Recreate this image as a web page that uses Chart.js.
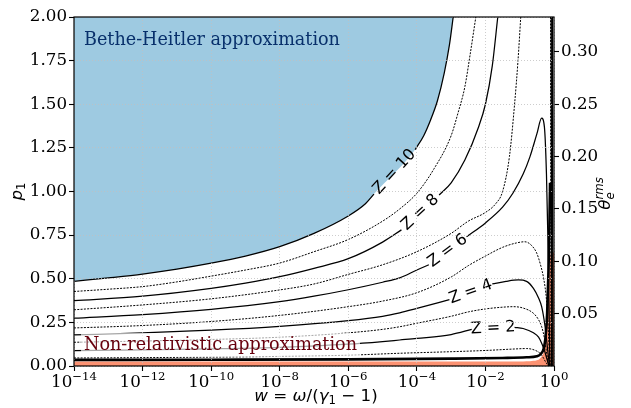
<!DOCTYPE html>
<html>
<head>
<meta charset="utf-8">
<script src="https://cdn.jsdelivr.net/npm/chart.js@4.4.0/dist/chart.umd.min.js"></script>
<style>
  html, body { margin: 0; padding: 0; background: #fff; }
  #wrap { width: 631px; height: 408px; }
</style>
</head>
<body>
<div id="wrap"><canvas id="myChart" width="631" height="408"></canvas></div>
<script>
// x values are log10(w), y values are p1. null = line broken (label / off the top)
const z10W = [-14, -13, -12, -11, -10, -9, -8, -7, -6, -5.5, -5.25, -4.64, -4.05, -3.8, -3.6, -3.4, -3.2, -3.05, -2.94, -1.5, -0.045, -0.04, -0.035];
const z10P = [0.485, 0.505, 0.527, 0.555, 0.589, 0.63, 0.684, 0.76, 0.86, 0.93, 0.985, null, 1.24, 1.32, 1.41, 1.52, 1.68, 1.84, 2.0, null, 2.0, 0.9, 0.0];

const z9W = [-14, -13, -12, -11, -10, -9, -8, -7, -6, -5, -4.5, -4, -3.5, -3, -2.8, -2.6, -2.45, -2.28, -1.2, -0.06, -0.055, -0.05];
const z9P = [0.427, 0.44, 0.455, 0.482, 0.515, 0.55, 0.59, 0.655, 0.725, 0.83, 0.9, 0.99, 1.13, 1.32, 1.45, 1.6, 1.78, 2.0, null, 2.0, 0.9, 0.0];

const z8W = [-14, -12, -10, -9, -8, -7, -6, -5, -4.45, -3.9, -3.35, -3, -2.6, -2.2, -2, -1.8, -1.64, -1.0, -0.08, -0.075, -0.07];
const z8P = [0.374, 0.4, 0.445, 0.475, 0.512, 0.56, 0.615, 0.71, 0.78, null, 0.98, 1.05, 1.18, 1.37, 1.5, 1.72, 2.0, null, 2.0, 0.9, 0.0];

const z7W = [-14, -12, -10, -8, -7, -6, -5, -4, -3, -2.5, -2, -1.7, -1.5, -1.3, -1.15, -1.05, -0.97, -0.5, -0.10, -0.095, -0.09];
const z7P = [0.322, 0.35, 0.385, 0.436, 0.47, 0.525, 0.58, 0.655, 0.76, 0.83, 0.88, 0.93, 1.0, 1.2, 1.5, 1.75, 2.0, null, 2.0, 0.9, 0.0];

const z6W = [-14, -12, -10, -8, -7, -6, -5, -4.5, -4, -3.65, -3.1, -2.55, -2, -1.5, -1.2, -0.9, -0.7, -0.5, -0.36, -0.28, -0.22, -0.18, -0.15, -0.13, -0.12];
const z6P = [0.274, 0.295, 0.325, 0.369, 0.4, 0.437, 0.48, 0.505, 0.55, 0.58, null, 0.74, 0.82, 0.91, 0.99, 1.1, 1.2, 1.33, 1.42, 1.37, 1.1, 0.75, 0.4, 0.15, 0.0];

const z5W = [-14, -12, -10, -8, -6, -5, -4, -3, -2.5, -2, -1.5, -1.1, -0.85, -0.65, -0.5, -0.38, -0.3, -0.22, -0.17, -0.13, -0.115];
const z5P = [0.218, 0.232, 0.255, 0.29, 0.34, 0.372, 0.42, 0.51, 0.575, 0.63, 0.68, 0.705, 0.712, 0.69, 0.645, 0.57, 0.5, 0.38, 0.22, 0.05, 0.0];

const z4W = [-14, -12, -10, -8, -6, -5, -4.5, -4, -3.05, -2.42, -1.8, -1.4, -1.04, -0.8, -0.6, -0.45, -0.36, -0.26, -0.2, -0.15, -0.13];
const z4P = [0.178, 0.19, 0.205, 0.227, 0.26, 0.285, 0.305, 0.33, 0.38, null, 0.47, 0.485, 0.493, 0.485, 0.445, 0.39, 0.34, 0.225, 0.12, 0.03, 0.0];

const z3W = [-14, -12, -10, -8, -6, -5, -4.5, -4, -3, -2.5, -2, -1.5, -1.19, -0.9, -0.6, -0.45, -0.36, -0.28, -0.22, -0.17, -0.14];
const z3P = [0.136, 0.143, 0.152, 0.165, 0.19, 0.21, 0.225, 0.245, 0.285, 0.31, 0.327, 0.337, 0.34, 0.332, 0.302, 0.265, 0.225, 0.16, 0.08, 0.02, 0.0];

const z2W = [-14, -12, -10, -8, -6, -5, -4.5, -4, -3, -2.4, -1.78, -1.15, -0.9, -0.6, -0.45, -0.36, -0.28, -0.22, -0.17, -0.15];
const z2P = [0.088, 0.092, 0.098, 0.107, 0.125, 0.14, 0.149, 0.158, 0.18, 0.21, null, 0.222, 0.215, 0.19, 0.165, 0.13, 0.09, 0.05, 0.015, 0.0];

const z1W = [-14, -12, -10, -8, -6, -4.5, -3, -2, -1.2, -0.8, -0.55, -0.41, -0.32, -0.25, -0.2, -0.17];
const z1P = [0.046, 0.048, 0.051, 0.055, 0.062, 0.073, 0.082, 0.089, 0.097, 0.1, 0.09, 0.073, 0.05, 0.025, 0.01, 0.0];

// dense bundle along the bottom / right edge
const edgeW = [-14, -10, -6, -3, -1.5, -0.8, -0.5, -0.38, -0.3, -0.25, -0.2, -0.16, -0.13, -0.115];
const edgeP = [0.035, 0.036, 0.038, 0.042, 0.046, 0.05, 0.056, 0.07, 0.1, 0.16, 0.3, 0.55, 0.85, 1.05];

// top of the non-relativistic region
const nrW = [-14, -1, -0.6, -0.4, -0.3, -0.25, -0.2, -0.16, -0.12, -0.08, 0];
const nrP = [0.026, 0.026, 0.03, 0.045, 0.08, 0.13, 0.25, 0.45, 0.6, 0.65, 0.65];

const xTickExp = [-14, -12, -10, -8, -6, -4, -2, 0];
const pTicks = [0, 0.25, 0.5, 0.75, 1.0, 1.25, 1.5, 1.75, 2.0];
const thetaTicks = [0.05, 0.10, 0.15, 0.20, 0.25, 0.30];

const SERIF = '"DejaVu Serif", serif';
const SANS = '"DejaVu Sans", sans-serif';

function toPts(ws, ps) {
  return ws.map(function (w, i) { return { x: Math.pow(10, w), y: ps[i] }; });
}

const curves = [
  { w: z10W, p: z10P, dotted: false, name: 'Z = 10' },
  { w: z9W, p: z9P, dotted: true },
  { w: z8W, p: z8P, dotted: false, name: 'Z = 8' },
  { w: z7W, p: z7P, dotted: true },
  { w: z6W, p: z6P, dotted: false, name: 'Z = 6' },
  { w: z5W, p: z5P, dotted: true },
  { w: z4W, p: z4P, dotted: false, name: 'Z = 4' },
  { w: z3W, p: z3P, dotted: true },
  { w: z2W, p: z2P, dotted: false, name: 'Z = 2' },
  { w: z1W, p: z1P, dotted: true }
];

const datasets = curves.map(function (c) {
  return {
    data: toPts(c.w, c.p),
    borderColor: '#000',
    borderWidth: c.dotted ? 1 : 1.25,
    borderDash: c.dotted ? [2, 1.3] : [],
    pointRadius: 0,
    fill: false,
    spanGaps: false,
    cubicInterpolationMode: 'monotone',
    zlabel: c.name || null
  };
});

datasets.push({
  data: toPts(edgeW, edgeP),
  borderColor: '#000', borderWidth: 2.6, pointRadius: 0, fill: false,
  cubicInterpolationMode: 'monotone'
});

// Non-relativistic region
datasets.push({
  data: toPts(nrW, nrP),
  borderWidth: 0, pointRadius: 0, fill: 'start',
  backgroundColor: '#fc9272', cubicInterpolationMode: 'monotone'
});

// Bethe-Heitler region: above the Z = 10 curve up to where it leaves the top
let bhPts = [];
for (let i = 0; i < z10W.length; i++) {
  if (z10P[i] === null) continue;
  bhPts.push({ x: Math.pow(10, z10W[i]), y: z10P[i] });
  if (z10P[i] >= 2.0) break;
}
datasets.push({
  data: bhPts,
  borderWidth: 0, pointRadius: 0, fill: 'end',
  backgroundColor: '#9ecae1', cubicInterpolationMode: 'monotone'
});

// draw a run of "math" text: runs = [{t, f, dy, back}]
function mathText(ctx, runs, x, y, rot, color) {
  ctx.save();
  ctx.translate(x, y);
  ctx.rotate(rot);
  ctx.fillStyle = color || '#000';
  ctx.textBaseline = 'alphabetic';
  ctx.textAlign = 'left';
  let cursor = 0, prevStart = 0;
  const starts = [];
  runs.forEach(function (r) {
    ctx.font = r.f;
    const wd = ctx.measureText(r.t).width;
    const s = r.back ? prevStart : cursor;
    starts.push(s);
    prevStart = s;
    cursor = r.back ? Math.max(cursor, s + wd) : s + wd;
  });
  const off = -cursor / 2;
  runs.forEach(function (r, i) {
    ctx.font = r.f;
    ctx.fillText(r.t, off + starts[i], r.dy || 0);
  });
  ctx.restore();
}

const overlay = {
  id: 'overlay',
  afterDatasetsDraw(chart) {
    const ctx = chart.ctx;
    const xs = chart.scales.x, ys = chart.scales.y;
    // contour labels in the line gaps
    chart.data.datasets.forEach(function (ds) {
      if (!ds.zlabel) return;
      const d = ds.data;
      let k = -1;
      for (let i = 1; i < d.length - 1; i++) {
        if (d[i].y === null) { k = i; break; }
      }
      if (k < 0) return;
      const x1 = xs.getPixelForValue(d[k - 1].x), y1 = ys.getPixelForValue(d[k - 1].y);
      const x2 = xs.getPixelForValue(d[k + 1].x), y2 = ys.getPixelForValue(d[k + 1].y);
      ctx.save();
      ctx.translate((x1 + x2) / 2, (y1 + y2) / 2);
      ctx.rotate(Math.atan2(y2 - y1, x2 - x1));
      ctx.font = '16px ' + SANS;
      ctx.fillStyle = '#000';
      ctx.textAlign = 'center';
      ctx.textBaseline = 'middle';
      ctx.fillText(ds.zlabel, 0, 0);
      ctx.restore();
    });
  },
  afterDraw(chart) {
    const ctx = chart.ctx;
    const a = chart.chartArea;
    const xs = chart.scales.x;

    // region annotations
    ctx.save();
    ctx.font = '17.6px ' + SERIF;
    ctx.textAlign = 'left';
    ctx.textBaseline = 'alphabetic';
    ctx.fillStyle = '#08306b';
    ctx.fillText('Bethe-Heitler approximation', a.left + 10, a.top + 28);

    const nrText = 'Non-relativistic approximation';
    const m = ctx.measureText(nrText);
    const bx = a.left + 10, by = a.bottom - 16;
    ctx.fillStyle = 'rgba(255,255,255,0.65)';
    ctx.fillRect(bx - 3, by - m.actualBoundingBoxAscent - 3, m.width + 6, m.actualBoundingBoxAscent + m.actualBoundingBoxDescent + 6);
    ctx.fillStyle = '#67000d';
    ctx.fillText(nrText, bx, by);
    ctx.restore();

    // frame
    ctx.save();
    ctx.strokeStyle = '#000';
    ctx.lineWidth = 1.2;
    ctx.strokeRect(a.left, a.top, a.right - a.left, a.bottom - a.top);
    ctx.restore();

    // x tick labels 10^n
    xTickExp.forEach(function (e) {
      const px = xs.getPixelForValue(Math.pow(10, e));
      const sup = e < 0 ? '\u2212' + (-e) : String(e);
      mathText(ctx, [
        { t: '10', f: '16.7px ' + SERIF },
        { t: sup, f: '11.7px ' + SERIF, dy: -7 }
      ], px, a.bottom + 21, 0);
    });

    // axis titles
    const it = 'italic 16.7px ' + SANS, up = '16.7px ' + SANS, sm = '11.7px ' + SANS, smi = 'italic 11.7px ' + SANS;
    mathText(ctx, [
      { t: 'w', f: it }, { t: ' = ', f: up }, { t: '\u03c9', f: it }, { t: '/(', f: up },
      { t: '\u03b3', f: it }, { t: '1', f: sm, dy: 3 }, { t: ' \u2212 1)', f: up }
    ], (a.left + a.right) / 2 + 2, 401, 0);

    mathText(ctx, [{ t: 'p', f: it }, { t: '1', f: sm, dy: 3 }],
      22, (a.top + a.bottom) / 2, -Math.PI / 2);

    mathText(ctx, [{ t: '\u03b8', f: it }, { t: 'e', f: smi, dy: 4 }, { t: 'rms', f: smi, dy: -7, back: true }],
      610, (a.top + a.bottom) / 2 + 2, -Math.PI / 2);
  }
};

const gridCommon = {
  color: '#c0c0c0', lineWidth: 0.8, z: 1,
  tickColor: '#000', tickLength: 5, tickWidth: 1.1, tickBorderDash: []
};

new Chart(document.getElementById('myChart'), {
  type: 'line',
  data: { datasets: datasets },
  options: {
    responsive: false,
    animation: false,
    devicePixelRatio: 1,
    layout: { padding: { top: 17, left: 0, right: 0, bottom: 0 } },
    plugins: { legend: { display: false }, tooltip: { enabled: false } },
    elements: { line: { borderCapStyle: 'butt' } },
    scales: {
      x: {
        type: 'logarithmic',
        min: 1e-14, max: 1,
        afterBuildTicks: function (s) { s.ticks = xTickExp.map(function (e) { return { value: Math.pow(10, e) }; }); },
        afterFit: function (s) { s.height = 42; },
        ticks: { display: false },
        grid: gridCommon,
        border: { display: false, dash: [1, 2] }
      },
      y: {
        type: 'linear', position: 'left',
        min: 0, max: 2,
        afterBuildTicks: function (s) { s.ticks = pTicks.map(function (v) { return { value: v }; }); },
        afterFit: function (s) { s.width = 74; },
        ticks: {
          color: '#000', padding: 2, font: { family: SERIF, size: 16.7 },
          callback: function (v) { return Number(v).toFixed(2); }
        },
        grid: gridCommon,
        border: { display: false, dash: [1, 2] }
      },
      y2: {
        type: 'linear', position: 'right',
        min: 0, max: 2 / 6,
        afterBuildTicks: function (s) { s.ticks = thetaTicks.map(function (v) { return { value: v }; }); },
        afterFit: function (s) { s.width = 77; },
        ticks: {
          color: '#000', padding: 2, font: { family: SERIF, size: 16.7 },
          callback: function (v) { return Number(v).toFixed(2); }
        },
        grid: { drawOnChartArea: false, tickColor: '#000', tickLength: 5, tickWidth: 1.1 },
        border: { display: false }
      }
    }
  },
  plugins: [overlay]
});
</script>
</body>
</html>
